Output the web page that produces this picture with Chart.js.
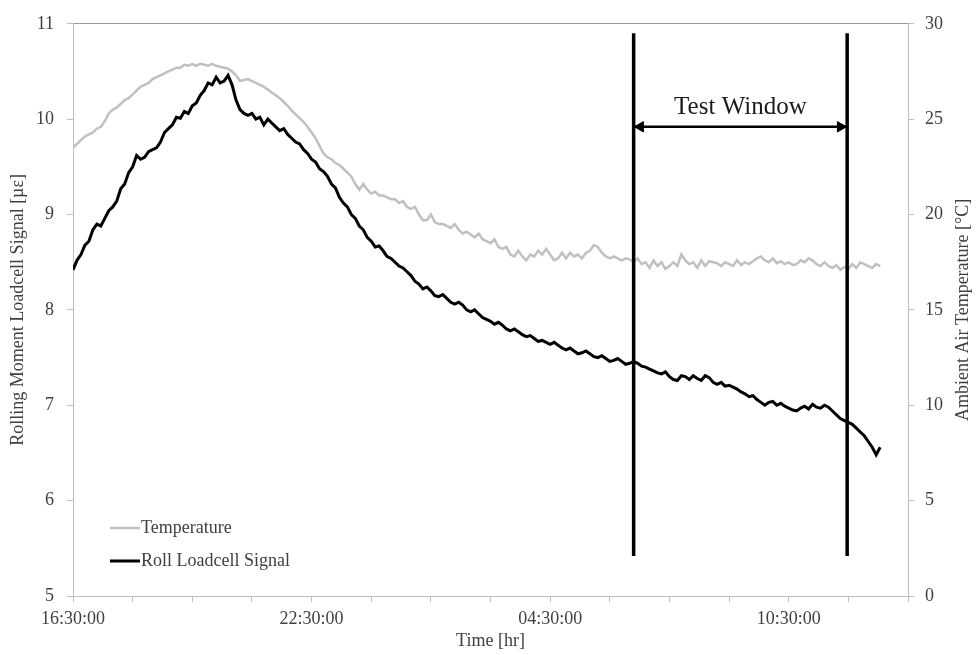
<!DOCTYPE html>
<html>
<head>
<meta charset="utf-8">
<script src="https://cdn.jsdelivr.net/npm/chart.js@4.4.1/dist/chart.umd.min.js"></script>
<style>
  html, body { margin: 0; padding: 0; background: #fff; }
  #wrap { width: 976px; height: 655px; }
</style>
</head>
<body>
<div id="wrap"><canvas id="loadcellChart" width="976" height="655"></canvas></div>
<script>
// samples are hours after 16:30:00, one every 0.1 hr
const sampleStep = 0.1;

const rollSignal = [
  8.42, 8.52, 8.58, 8.68, 8.72, 8.84, 8.90, 8.88, 8.96, 9.04,
  9.08, 9.14, 9.27, 9.32, 9.44, 9.50, 9.62, 9.58, 9.60, 9.66,
  9.68, 9.70, 9.76, 9.86, 9.90, 9.94, 10.02, 10.01, 10.08, 10.06,
  10.14, 10.17, 10.25, 10.30, 10.38, 10.36, 10.44, 10.38, 10.40, 10.46,
  10.36, 10.20, 10.10, 10.06, 10.04, 10.06, 10.00, 10.02, 9.94, 10.00,
  9.96, 9.92, 9.88, 9.90, 9.84, 9.80, 9.76, 9.74, 9.68, 9.64,
  9.58, 9.55, 9.48, 9.45, 9.40, 9.32, 9.28, 9.18, 9.12, 9.08,
  9.00, 8.96, 8.88, 8.84, 8.76, 8.72, 8.66, 8.67, 8.62, 8.56,
  8.54, 8.50, 8.46, 8.44, 8.40, 8.36, 8.30, 8.27, 8.22, 8.24,
  8.20, 8.15, 8.14, 8.16, 8.12, 8.08, 8.06, 8.08, 8.05, 8.00,
  7.98, 8.00, 7.96, 7.92, 7.90, 7.88, 7.85, 7.87, 7.84, 7.80,
  7.78, 7.80, 7.77, 7.74, 7.72, 7.73, 7.70, 7.67, 7.68, 7.66,
  7.64, 7.66, 7.63, 7.60, 7.58, 7.60, 7.57, 7.54, 7.55, 7.57,
  7.54, 7.51, 7.50, 7.52, 7.49, 7.46, 7.47, 7.49, 7.46, 7.43,
  7.44, 7.46, 7.44, 7.41, 7.40, 7.38, 7.36, 7.34, 7.33, 7.35,
  7.30, 7.27, 7.26, 7.31, 7.30, 7.27, 7.31, 7.28, 7.26, 7.31,
  7.29, 7.24, 7.22, 7.24, 7.20, 7.21, 7.19, 7.17, 7.14, 7.12,
  7.09, 7.10, 7.06, 7.03, 7.00, 7.03, 7.04, 7.00, 7.02, 6.99,
  6.97, 6.95, 6.94, 6.97, 6.99, 6.96, 7.01, 6.98, 6.97, 7.00,
  6.98, 6.94, 6.90, 6.86, 6.84, 6.82, 6.80, 6.76, 6.72, 6.68,
  6.62, 6.56, 6.48, 6.56
];

const airTemperature = [
  23.5, 23.7, 23.9, 24.1, 24.2, 24.3, 24.5, 24.6, 24.9, 25.3,
  25.5, 25.6, 25.8, 26.0, 26.1, 26.3, 26.5, 26.7, 26.8, 26.9,
  27.1, 27.2, 27.3, 27.4, 27.5, 27.6, 27.7, 27.7, 27.85, 27.8,
  27.9, 27.8, 27.9, 27.85, 27.8, 27.9, 27.8, 27.75, 27.7, 27.65,
  27.5, 27.3, 27.0, 27.05, 27.1, 27.0, 26.9, 26.8, 26.7, 26.55,
  26.4, 26.25, 26.1, 25.9, 25.7, 25.45, 25.25, 25.05, 24.85, 24.6,
  24.3, 24.0, 23.6, 23.2, 23.0, 22.9, 22.7, 22.6, 22.4, 22.2,
  22.0, 21.6, 21.3, 21.6, 21.3, 21.1, 21.2, 21.0, 21.0, 20.9,
  20.8, 20.8, 20.6, 20.7, 20.4, 20.3, 20.4, 20.0, 19.7, 19.7,
  20.0, 19.6, 19.5, 19.5, 19.4, 19.3, 19.5, 19.2, 19.0, 19.1,
  18.95, 18.8, 19.0, 18.7, 18.6, 18.5, 18.7, 18.3, 18.2, 18.3,
  17.9, 17.8, 18.1, 17.8, 17.6, 17.9, 17.8, 18.1, 17.9, 18.2,
  17.9, 17.6, 17.7, 18.0, 17.7, 18.0, 17.8, 17.9, 17.7, 18.0,
  18.1, 18.4, 18.3, 18.0, 17.8, 17.7, 17.8, 17.7, 17.6, 17.7,
  17.65, 17.5, 17.7, 17.4, 17.5, 17.2, 17.6, 17.3, 17.5, 17.15,
  17.3, 17.5, 17.3, 17.9, 17.6, 17.4, 17.5, 17.2, 17.6, 17.3,
  17.55, 17.5, 17.45, 17.3, 17.5, 17.4, 17.3, 17.6, 17.35, 17.5,
  17.4, 17.55, 17.7, 17.8, 17.6, 17.5, 17.7, 17.45, 17.55, 17.4,
  17.5, 17.35, 17.4, 17.6, 17.5, 17.7, 17.6, 17.4, 17.3, 17.5,
  17.3, 17.2, 17.35, 17.1, 17.25, 17.15, 17.4, 17.2, 17.5, 17.4,
  17.3, 17.2, 17.4, 17.3
];

// x tick every 1.5 hr, label every 6 hr
const timeTickLabels = ['16:30:00', '22:30:00', '04:30:00', '10:30:00'];

// test window (hours) and how far the markers reach on the left axis
const testWindow = [14.1, 19.47];
const windowSpan = [5.42, 10.9];
const arrowLevel = 9.92;
const windowLabelLevel = 10.12;

const fontFamily = '"Liberation Serif", "Times New Roman", serif';
const textColor = '#404040';
const axisGrey = '#bfbfbf';

const toPoints = arr => arr.map((v, i) => ({ x: +(i * sampleStep).toFixed(2), y: v }));

const extrasPlugin = {
    id: 'extras',
    afterDatasetsDraw(chart) {
        const { ctx, scales } = chart;
        const x = scales.x, y = scales.y;
        ctx.save();

        // Test Window caption
        ctx.font = '25px ' + fontFamily;
        ctx.fillStyle = '#1a1a1a';
        ctx.textAlign = 'center';
        ctx.textBaseline = 'middle';
        ctx.fillText('Test Window', x.getPixelForValue((testWindow[0] + testWindow[1]) / 2), y.getPixelForValue(windowLabelLevel));

        // legend inside the plot, bottom left
        const items = [
            { label: 'Temperature', color: '#c0c0c0', width: 2.5, top: 528 },
            { label: 'Roll Loadcell Signal', color: '#000', width: 3, top: 561 }
        ];
        ctx.font = '18px ' + fontFamily;
        ctx.textAlign = 'left';
        items.forEach(it => {
            ctx.strokeStyle = it.color;
            ctx.lineWidth = it.width;
            ctx.beginPath();
            ctx.moveTo(110, it.top);
            ctx.lineTo(140, it.top);
            ctx.stroke();
            ctx.fillStyle = textColor;
            ctx.fillText(it.label, 141, it.top);
        });

        // right axis title reads bottom to top
        const r = scales.y1;
        ctx.translate(963, (r.top + r.bottom) / 2);
        ctx.rotate(-Math.PI / 2);
        ctx.textAlign = 'center';
        ctx.fillStyle = textColor;
        ctx.fillText('Ambient Air Temperature [\u00B0C]', 0, 0);
        ctx.restore();
    }
};

const lineBase = { pointRadius: 0, tension: 0, fill: false };

new Chart(document.getElementById('loadcellChart'), {
    type: 'line',
    data: {
        datasets: [
            {
                ...lineBase,
                data: [{ x: testWindow[0], y: windowSpan[0] }, { x: testWindow[0], y: windowSpan[1] }],
                borderColor: '#000', borderWidth: 3.5, yAxisID: 'y'
            },
            {
                ...lineBase,
                data: [{ x: testWindow[1], y: windowSpan[0] }, { x: testWindow[1], y: windowSpan[1] }],
                borderColor: '#000', borderWidth: 3.5, yAxisID: 'y'
            },
            {
                ...lineBase,
                data: [
                    { x: testWindow[0], y: arrowLevel },
                    { x: testWindow[0] + 0.17, y: arrowLevel },
                    { x: testWindow[1] - 0.17, y: arrowLevel },
                    { x: testWindow[1], y: arrowLevel }
                ],
                borderColor: '#000', borderWidth: 2.5, yAxisID: 'y',
                pointStyle: 'triangle',
                pointRadius: [0, 6, 6, 0],
                pointRotation: [0, -90, 90, 0],
                pointBackgroundColor: '#000',
                pointBorderColor: '#000',
                pointBorderWidth: 1
            },
            {
                ...lineBase,
                label: 'Roll Loadcell Signal',
                data: toPoints(rollSignal),
                borderColor: '#000', borderWidth: 3, yAxisID: 'y'
            },
            {
                ...lineBase,
                label: 'Temperature',
                data: toPoints(airTemperature),
                borderColor: '#c0c0c0', borderWidth: 2.5, yAxisID: 'y1'
            }
        ]
    },
    options: {
        responsive: false,
        animation: false,
        devicePixelRatio: 1,
        layout: { padding: { top: 22, right: 0, bottom: 0, left: 0 } },
        plugins: { legend: { display: false }, tooltip: { enabled: false } },
        scales: {
            x: {
                type: 'linear',
                min: 0, max: 21,
                afterFit: s => { s.height = 59; },
                grid: { drawOnChartArea: false, tickLength: 6, color: axisGrey },
                border: { color: axisGrey },
                ticks: {
                    stepSize: 1.5,
                    autoSkip: false,
                    maxRotation: 0,
                    padding: 6,
                    color: textColor,
                    font: { family: fontFamily, size: 18 },
                    callback: v => (v % 6 === 0 ? timeTickLabels[v / 6] : '')
                },
                title: {
                    display: true,
                    text: 'Time [hr]',
                    color: textColor,
                    font: { family: fontFamily, size: 18 },
                    padding: { top: 0, bottom: 3 }
                }
            },
            xTop: {
                type: 'linear',
                position: 'top',
                min: 0, max: 21,
                afterFit: s => { s.height = 0; },
                grid: { display: false },
                ticks: { display: false },
                border: { color: '#9a9a9a' }
            },
            y: {
                position: 'left',
                min: 5, max: 11,
                afterFit: s => { s.width = 73; },
                grid: { drawOnChartArea: false, tickLength: 6, color: axisGrey },
                border: { color: axisGrey },
                ticks: {
                    stepSize: 1,
                    padding: 13,
                    color: textColor,
                    font: { family: fontFamily, size: 18 }
                },
                title: {
                    display: true,
                    text: 'Rolling Moment Loadcell Signal [\u00B5\u03B5]',
                    color: textColor,
                    font: { family: fontFamily, size: 18 },
                    padding: { top: 7, bottom: 0 }
                }
            },
            y1: {
                position: 'right',
                min: 0, max: 30,
                afterFit: s => { s.width = 68; },
                grid: { drawOnChartArea: false, tickLength: 6, color: axisGrey },
                border: { color: axisGrey },
                ticks: {
                    stepSize: 5,
                    padding: 11,
                    color: textColor,
                    font: { family: fontFamily, size: 18 }
                }
            }
        }
    },
    plugins: [extrasPlugin]
});
</script>
</body>
</html>
